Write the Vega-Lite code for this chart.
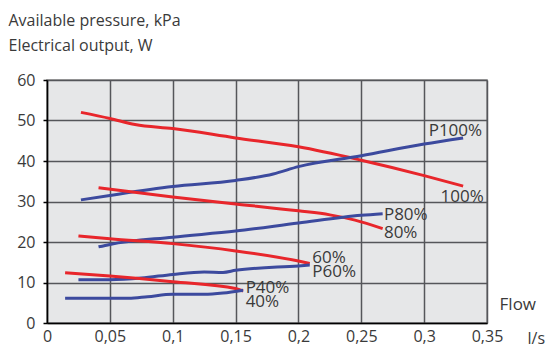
{
  "$schema": "https://vega.github.io/schema/vega-lite/v6.json",
  "width": 440,
  "height": 243,
  "autosize": "none",
  "padding": {"left": 47, "top": 80, "right": 60, "bottom": 26},
  "background": "white",
  "config": {
    "font": "Open Sans",
    "view": {"fill": "#e6e7e8", "stroke": "#8a8a8a", "strokeWidth": 1.5},
    "axis": {"labelFont": "Open Sans", "titleFont": "Open Sans"}
  },
  "datasets": {
    "curves": [
      {"series": "R100", "kind": "power", "flow": 0.027, "value": 52.0},
      {"series": "R100", "kind": "power", "flow": 0.05, "value": 50.5},
      {"series": "R100", "kind": "power", "flow": 0.07, "value": 49.0},
      {"series": "R100", "kind": "power", "flow": 0.1, "value": 48.0},
      {"series": "R100", "kind": "power", "flow": 0.15, "value": 45.7},
      {"series": "R100", "kind": "power", "flow": 0.2, "value": 43.5},
      {"series": "R100", "kind": "power", "flow": 0.25, "value": 40.2},
      {"series": "R100", "kind": "power", "flow": 0.3, "value": 36.4},
      {"series": "R100", "kind": "power", "flow": 0.331, "value": 33.8},
      {"series": "B100", "kind": "pressure", "flow": 0.027, "value": 30.4},
      {"series": "B100", "kind": "pressure", "flow": 0.05, "value": 31.5},
      {"series": "B100", "kind": "pressure", "flow": 0.1, "value": 33.7},
      {"series": "B100", "kind": "pressure", "flow": 0.15, "value": 35.2},
      {"series": "B100", "kind": "pressure", "flow": 0.18, "value": 36.8},
      {"series": "B100", "kind": "pressure", "flow": 0.2, "value": 38.6},
      {"series": "B100", "kind": "pressure", "flow": 0.25, "value": 41.3},
      {"series": "B100", "kind": "pressure", "flow": 0.3, "value": 44.2},
      {"series": "B100", "kind": "pressure", "flow": 0.331, "value": 45.7},
      {"series": "R80", "kind": "power", "flow": 0.041, "value": 33.4},
      {"series": "R80", "kind": "power", "flow": 0.1, "value": 31.1},
      {"series": "R80", "kind": "power", "flow": 0.15, "value": 29.4},
      {"series": "R80", "kind": "power", "flow": 0.2, "value": 27.7},
      {"series": "R80", "kind": "power", "flow": 0.225, "value": 26.7},
      {"series": "R80", "kind": "power", "flow": 0.245, "value": 25.4},
      {"series": "R80", "kind": "power", "flow": 0.267, "value": 23.3},
      {"series": "B80", "kind": "pressure", "flow": 0.041, "value": 18.8},
      {"series": "B80", "kind": "pressure", "flow": 0.05, "value": 19.4},
      {"series": "B80", "kind": "pressure", "flow": 0.1, "value": 21.2},
      {"series": "B80", "kind": "pressure", "flow": 0.15, "value": 22.7},
      {"series": "B80", "kind": "pressure", "flow": 0.2, "value": 24.7},
      {"series": "B80", "kind": "pressure", "flow": 0.25, "value": 26.6},
      {"series": "B80", "kind": "pressure", "flow": 0.267, "value": 27.0},
      {"series": "R60", "kind": "power", "flow": 0.025, "value": 21.5},
      {"series": "R60", "kind": "power", "flow": 0.05, "value": 20.8},
      {"series": "R60", "kind": "power", "flow": 0.1, "value": 19.6},
      {"series": "R60", "kind": "power", "flow": 0.15, "value": 17.8},
      {"series": "R60", "kind": "power", "flow": 0.2, "value": 15.3},
      {"series": "R60", "kind": "power", "flow": 0.209, "value": 14.7},
      {"series": "B60", "kind": "pressure", "flow": 0.025, "value": 10.7},
      {"series": "B60", "kind": "pressure", "flow": 0.05, "value": 10.7},
      {"series": "B60", "kind": "pressure", "flow": 0.075, "value": 11.1},
      {"series": "B60", "kind": "pressure", "flow": 0.1, "value": 12.0},
      {"series": "B60", "kind": "pressure", "flow": 0.125, "value": 12.6},
      {"series": "B60", "kind": "pressure", "flow": 0.14, "value": 12.5},
      {"series": "B60", "kind": "pressure", "flow": 0.15, "value": 13.0},
      {"series": "B60", "kind": "pressure", "flow": 0.2, "value": 14.1},
      {"series": "B60", "kind": "pressure", "flow": 0.209, "value": 14.3},
      {"series": "R40", "kind": "power", "flow": 0.0144, "value": 12.4},
      {"series": "R40", "kind": "power", "flow": 0.05, "value": 11.6},
      {"series": "R40", "kind": "power", "flow": 0.1, "value": 10.2},
      {"series": "R40", "kind": "power", "flow": 0.15, "value": 8.5},
      {"series": "R40", "kind": "power", "flow": 0.156, "value": 7.9},
      {"series": "B40", "kind": "pressure", "flow": 0.0144, "value": 6.1},
      {"series": "B40", "kind": "pressure", "flow": 0.05, "value": 6.1},
      {"series": "B40", "kind": "pressure", "flow": 0.065, "value": 6.1},
      {"series": "B40", "kind": "pressure", "flow": 0.08, "value": 6.5},
      {"series": "B40", "kind": "pressure", "flow": 0.1, "value": 7.1},
      {"series": "B40", "kind": "pressure", "flow": 0.125, "value": 7.1},
      {"series": "B40", "kind": "pressure", "flow": 0.14, "value": 7.4},
      {"series": "B40", "kind": "pressure", "flow": 0.156, "value": 8.1}
    ],
    "labels": [
      {"label": "P100%", "flow": 0.3036, "value": 47.5},
      {"label": "100%", "flow": 0.313, "value": 31.0},
      {"label": "P80%", "flow": 0.268, "value": 26.6},
      {"label": "80%", "flow": 0.268, "value": 22.1},
      {"label": "60%", "flow": 0.211, "value": 16.0},
      {"label": "P60%", "flow": 0.211, "value": 12.7},
      {"label": "P40%", "flow": 0.158, "value": 8.6},
      {"label": "40%", "flow": 0.158, "value": 5.3},
      {"label": "Flow", "flow": 0.360, "value": 4.4}
    ]
  },
  "layer": [
    {
      "data": {"name": "curves"},
      "mark": {"type": "line", "strokeWidth": 3, "interpolate": "monotone", "clip": false},
      "encoding": {
        "x": {
          "field": "flow", "type": "quantitative",
          "scale": {"domain": [0, 0.35], "nice": false, "zero": false},
          "axis": {
            "values": [0, 0.05, 0.1, 0.15, 0.2, 0.25, 0.3, 0.35],
            "labelExpr": "replace(format(datum.value, '.2~f'), '.', ',')",
            "labelFontSize": 16, "labelColor": "#3a3a3a", "labelPadding": 5,
            "labelFlush": false,
            "ticks": false,
            "domainColor": "#000000", "domainWidth": 1.5,
            "grid": true, "gridColor": "#55565a", "gridWidth": 1.5,
            "title": "l/s", "titleFontSize": 16, "titleFontWeight": "normal", "titleColor": "#3a3a3a",
            "titleX": 480, "titleY": 20, "titleAlign": "left", "titleBaseline": "alphabetic"
          }
        },
        "y": {
          "field": "value", "type": "quantitative",
          "scale": {"domain": [0, 60], "nice": false},
          "axis": {
            "values": [0, 10, 20, 30, 40, 50, 60],
            "labelFontSize": 16, "labelColor": "#3a3a3a", "labelPadding": 8,
            "tickSize": 4, "tickColor": "#000000", "tickWidth": 1.5,
            "domainColor": "#000000", "domainWidth": 1.5,
            "grid": true, "gridColor": "#55565a", "gridWidth": 1.5,
            "title": ["Available pressure, kPa", "Electrical output, W"],
            "titleFontSize": 16, "titleFontWeight": "normal", "titleColor": "#3a3a3a",
            "titleAngle": 0, "titleX": -39, "titleY": -55, "titleAlign": "left",
            "titleBaseline": "alphabetic", "titleLineHeight": 25
          }
        },
        "detail": {"field": "series"},
        "color": {
          "field": "kind", "type": "nominal",
          "scale": {"domain": ["power", "pressure"], "range": ["#e8262b", "#3c4a9e"]},
          "legend": null
        }
      }
    },
    {
      "data": {"name": "labels"},
      "mark": {"type": "text", "align": "left", "baseline": "middle", "fontSize": 17, "color": "#3a3a3a", "clip": false, "font": "Open Sans"},
      "encoding": {
        "x": {"field": "flow", "type": "quantitative"},
        "y": {"field": "value", "type": "quantitative"},
        "text": {"field": "label"}
      }
    }
  ]
}
